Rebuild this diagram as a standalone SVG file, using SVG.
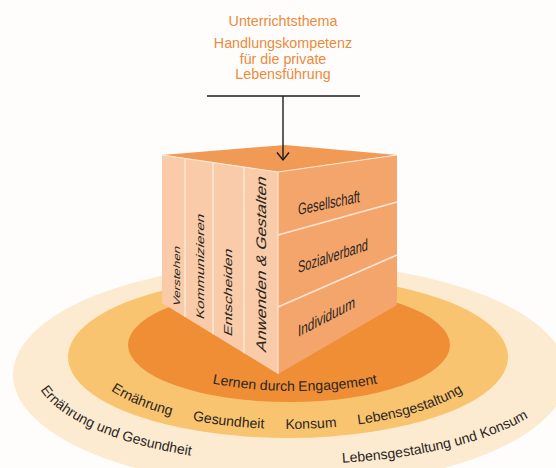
<svg xmlns="http://www.w3.org/2000/svg" width="556" height="468" viewBox="0 0 556 468">
<defs>
<style>
.t{font-family:"Liberation Sans",Arial,sans-serif;}
.ttl{font-size:14.3px;fill:#ec8a3c;text-anchor:middle;}
.ring{font-size:14px;fill:#2b2622;}
.face{font-size:16.5px;fill:#2b2622;}
.strip{fill:#2b2622;text-anchor:middle;}
.div{stroke:#fde6d4;stroke-width:1.6;fill:none;}
.edge{stroke:#fde8d6;stroke-width:1.2;fill:none;}
.conn{stroke:#1a1a1a;stroke-width:1.4;fill:none;}
</style>
<path id="pInner" d="M145,345 A150,46 0 0 0 445,345"/>
<path id="pMid" d="M88,357 A200,72 0 0 0 488,357"/>
<path id="pOuter" d="M34,369 A266,95 0 0 0 566,369"/>
</defs>
<rect width="556" height="468" fill="#fffdfb"/>

<g id="rings">
<ellipse cx="290" cy="375" rx="277" ry="112" fill="#fdebd1"/>
<ellipse cx="288" cy="357" rx="220" ry="81" fill="#f9c470"/>
<ellipse cx="289" cy="345" rx="161" ry="57" fill="#ef8e35"/>
</g>

<g id="title">
<text class="t ttl" x="283" y="26">Unterrichtsthema</text>
<text class="t ttl" x="283" y="48">Handlungskompetenz</text>
<text class="t ttl" x="283" y="63.5">für die private</text>
<text class="t ttl" x="283" y="79">Lebensführung</text>
</g>

<g id="cube">
<polygon points="162,155 285,145 397,155 278,172" fill="#f09a55"/>
<polygon points="162,155 278,172 278,374 162,303" fill="#f9cba8"/>
<polygon points="278,172 397,155 397,305 278,374" fill="#f4a56b"/>
<line class="div" x1="185" y1="158.4" x2="185" y2="317.1"/>
<line class="div" x1="213" y1="162.5" x2="213" y2="334.2"/>
<line class="div" x1="244" y1="167" x2="244" y2="353.2"/>
<line class="div" x1="278" y1="235" x2="397" y2="202" stroke-width="2"/>
<line class="div" x1="278" y1="307" x2="397" y2="255" stroke-width="2"/>
<polyline class="edge" points="162,155 278,172 397,155"/>
<line class="edge" x1="278" y1="172" x2="278" y2="374"/>
</g>

<g id="face-labels">
<text class="t face" transform="matrix(1,-0.21,0,1,298,215)" textLength="62" lengthAdjust="spacingAndGlyphs">Gesellschaft</text>
<text class="t face" transform="matrix(1,-0.33,0,1,298,273)" textLength="70" lengthAdjust="spacingAndGlyphs">Sozialverband</text>
<text class="t face" transform="matrix(1,-0.52,0,1,298,337)" textLength="57" lengthAdjust="spacingAndGlyphs">Individuum</text>
</g>

<g id="strip-labels">
<text class="t strip" font-size="9.5" transform="matrix(0,-1,1,0.4,179.5,277)" textLength="60" lengthAdjust="spacingAndGlyphs">Verstehen</text>
<text class="t strip" font-size="11" transform="matrix(0,-1,1,0.4,204,267.5)" textLength="105" lengthAdjust="spacingAndGlyphs">Kommunizieren</text>
<text class="t strip" font-size="11.5" transform="matrix(0,-1,1,0.4,232,293.5)" textLength="87" lengthAdjust="spacingAndGlyphs">Entscheiden</text>
<text class="t strip" font-size="14" transform="matrix(0,-1,1,0.4,266,265.5)" textLength="175" lengthAdjust="spacingAndGlyphs">Anwenden &amp; Gestalten</text>
</g>

<g id="ring-labels">
<text class="t ring"><textPath href="#pInner" startOffset="50%" text-anchor="middle">Lernen durch Engagement</textPath></text>
<text class="t ring"><textPath href="#pMid" startOffset="75" text-anchor="middle">Ernährung</textPath></text>
<text class="t ring"><textPath href="#pMid" startOffset="165.6" text-anchor="middle">Gesundheit</textPath></text>
<text class="t ring"><textPath href="#pMid" startOffset="248.7" text-anchor="middle">Konsum</textPath></text>
<text class="t ring"><textPath href="#pMid" startOffset="351" text-anchor="middle">Lebensgestaltung</textPath></text>
<text class="t ring" font-size="14.3"><textPath href="#pOuter" startOffset="22">Ernährung und Gesundheit</textPath></text>
<text class="t ring" font-size="14.3"><textPath href="#pOuter" startOffset="535" text-anchor="end">Lebensgestaltung und Konsum</textPath></text>
</g>

<g id="connectors">
<line class="conn" x1="207" y1="96" x2="360" y2="96" stroke-width="1.6"/>
<line class="conn" x1="283" y1="96" x2="283" y2="160"/>
<polyline class="conn" points="277,152.5 283,160 289,152.5"/>
</g>
</svg>
